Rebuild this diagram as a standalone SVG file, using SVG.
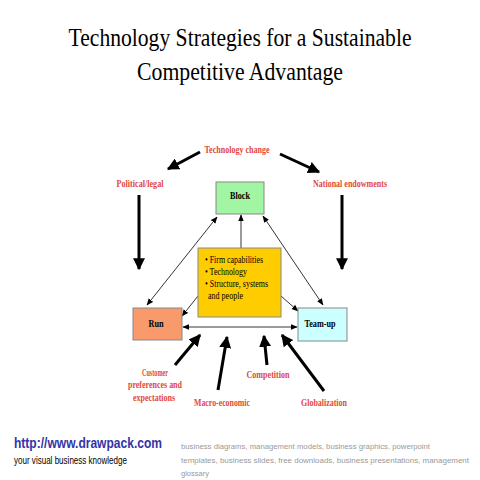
<svg xmlns="http://www.w3.org/2000/svg" width="480" height="480" viewBox="0 0 480 480">
<defs>
<marker id="thick" viewBox="0 0 10 10" refX="9" refY="5" markerWidth="4" markerHeight="4" orient="auto" markerUnits="strokeWidth"><path d="M0,0 L10,5 L0,10 z" fill="#000"/></marker>
<marker id="thin" viewBox="0 0 10 10" refX="9" refY="5" markerWidth="7" markerHeight="7" orient="auto-start-reverse" markerUnits="userSpaceOnUse"><path d="M0,1 L10,5 L0,9 z" fill="#000"/></marker>
</defs>
<style>
.title{font-family:"Liberation Serif",serif;font-size:25px;fill:#000;text-anchor:middle}
.lbl{font-family:"Liberation Serif",serif;font-size:10px;font-weight:bold;fill:#e04a3c;text-anchor:middle}
.box{stroke:#888;stroke-width:1}
.bt{font-family:"Liberation Serif",serif;font-size:10px;font-weight:bold;fill:#000;text-anchor:middle}
.ct{font-family:"Liberation Serif",serif;font-size:11px;fill:#000}
.tk{stroke:#000;stroke-width:3;fill:none;marker-end:url(#thick)}
.tn{stroke:#000;stroke-width:0.8;fill:none}
.gr{font-family:"Liberation Sans",sans-serif;font-size:8px;fill:#999}
</style>
<rect width="480" height="480" fill="#fff"/>
<text class="title" x="240" y="46" textLength="343" lengthAdjust="spacingAndGlyphs">Technology Strategies for a Sustainable</text>
<text class="title" x="240" y="80" textLength="206" lengthAdjust="spacingAndGlyphs">Competitive Advantage</text>

<g id="connectors">
<line class="tk" x1="200" y1="152" x2="168" y2="169"/>
<line class="tk" x1="280" y1="154" x2="319" y2="172"/>
<line class="tk" x1="139" y1="195" x2="139" y2="269"/>
<line class="tk" x1="342" y1="195" x2="342" y2="269"/>
<line class="tk" x1="175" y1="365" x2="200" y2="335"/>
<line class="tk" x1="218" y1="390" x2="227" y2="337"/>
<line class="tk" x1="267" y1="365" x2="264" y2="336"/>
<line class="tk" x1="324" y1="391" x2="282" y2="335"/>
<line class="tn" x1="217" y1="217" x2="147" y2="305" marker-start="url(#thin)" marker-end="url(#thin)"/>
<line class="tn" x1="263" y1="216" x2="323" y2="305" marker-start="url(#thin)" marker-end="url(#thin)"/>
<line class="tn" x1="241" y1="248" x2="241" y2="215" marker-end="url(#thin)"/>
<line class="tn" x1="198" y1="296" x2="182" y2="316" marker-end="url(#thin)"/>
<line class="tn" x1="281" y1="296" x2="298" y2="311" marker-end="url(#thin)"/>
<line class="tn" x1="183" y1="327" x2="297" y2="327" marker-start="url(#thin)" marker-end="url(#thin)"/>
</g>

<g id="block"><rect class="box" x="216" y="182" width="48" height="32" fill="#a2f5a2"/><text class="bt" x="240" y="199" textLength="20" lengthAdjust="spacingAndGlyphs">Block</text></g>
<g id="center"><rect class="box" x="198" y="248" width="83" height="69" fill="#ffcc00"/>
<text class="ct" x="205" y="263" textLength="58" lengthAdjust="spacingAndGlyphs">• Firm capabilities</text>
<text class="ct" x="205" y="275" textLength="42" lengthAdjust="spacingAndGlyphs">• Technology</text>
<text class="ct" x="205" y="287" textLength="63" lengthAdjust="spacingAndGlyphs">• Structure, systems</text>
<text class="ct" x="208" y="299" textLength="35" lengthAdjust="spacingAndGlyphs">and people</text></g>
<g id="run"><rect class="box" x="133" y="308" width="49" height="32" fill="#f89a6c"/><text class="bt" x="156" y="327" textLength="15" lengthAdjust="spacingAndGlyphs">Run</text></g>
<g id="teamup"><rect class="box" x="298" y="308" width="49" height="33" fill="#ccffff"/><text class="bt" x="320" y="327" textLength="31" lengthAdjust="spacingAndGlyphs">Team-up</text></g>

<g id="labels">
<text class="lbl" x="237" y="153" textLength="65" lengthAdjust="spacingAndGlyphs">Technology change</text>
<text class="lbl" x="140" y="187" textLength="47" lengthAdjust="spacingAndGlyphs">Political/legal</text>
<text class="lbl" x="350" y="187" textLength="74" lengthAdjust="spacingAndGlyphs">National endowments</text>
<text class="lbl" x="155" y="376" textLength="26" lengthAdjust="spacingAndGlyphs">Customer</text>
<text class="lbl" x="155" y="388" textLength="54" lengthAdjust="spacingAndGlyphs">preferences and</text>
<text class="lbl" x="154" y="401" textLength="42" lengthAdjust="spacingAndGlyphs">expectations</text>
<text class="lbl" x="222" y="406" textLength="56" lengthAdjust="spacingAndGlyphs">Macro-economic</text>
<text class="lbl" x="268" y="378" textLength="43" lengthAdjust="spacingAndGlyphs">Competition</text>
<text class="lbl" x="324" y="406" textLength="46" lengthAdjust="spacingAndGlyphs">Globalization</text>
</g>

<text x="14" y="448" font-family="Liberation Sans,sans-serif" font-size="14" font-weight="bold" fill="#3434a8" textLength="148" lengthAdjust="spacingAndGlyphs">http://www.drawpack.com</text>
<text x="14" y="464" font-family="Liberation Sans,sans-serif" font-size="10" fill="#000" textLength="113" lengthAdjust="spacingAndGlyphs">your visual business knowledge</text>
<text class="gr" x="181" y="449" textLength="249" lengthAdjust="spacingAndGlyphs">business diagrams, management models, business graphics, powerpoint</text>
<text class="gr" x="181" y="463" textLength="288" lengthAdjust="spacingAndGlyphs">templates, business slides, free downloads, business presentations, management</text>
<text class="gr" x="181" y="476" textLength="28" lengthAdjust="spacingAndGlyphs">glossary</text>
</svg>
